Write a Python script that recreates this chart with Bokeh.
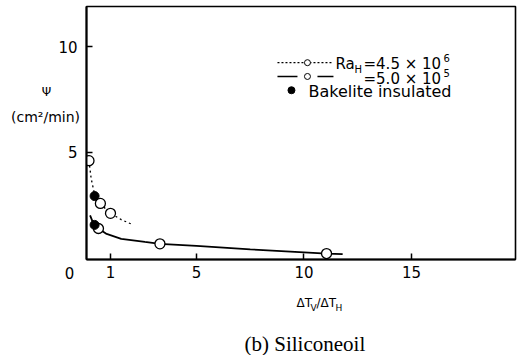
from bokeh.plotting import figure
from bokeh.models import Range1d, FixedTicker, Label
from bokeh.embed import file_html
from bokeh.resources import INLINE

# ---- data ----
ra45_line_x = [0.0, 0.1, 0.26, 0.53, 1.0, 1.5, 1.95]
ra45_line_y = [4.6, 3.75, 3.0, 2.55, 2.1, 1.8, 1.6]
ra45_pts_x = [0.0, 0.53, 1.0]
ra45_pts_y = [4.6, 2.57, 2.1]

ra5_line_x = [0.05, 0.2, 0.44, 0.82, 1.5, 2.6, 3.3, 5.0, 7.5, 10.0, 11.05, 11.8]
ra5_line_y = [2.0, 1.62, 1.38, 1.12, 0.89, 0.74, 0.65, 0.55, 0.39, 0.25, 0.19, 0.16]
ra5_pts_x = [0.44, 3.3, 11.05]
ra5_pts_y = [1.38, 0.65, 0.19]

bakelite_x = [0.26, 0.26]
bakelite_y = [2.92, 1.55]

x_ticks = [1, 5, 10, 15]
y_ticks = [5, 10]

SANS = "'DejaVu Sans', sans-serif"
SERIF = "'Liberation Serif', serif"

p = figure(width=517, height=355, output_backend="svg", toolbar_location=None,
           x_range=Range1d(-0.116, 19.84), y_range=Range1d(-0.093, 11.92),
           min_border_left=86, min_border_right=2, min_border_top=6, min_border_bottom=96)
p.grid.visible = False
p.background_fill_color = "white"
p.border_fill_color = "white"
p.outline_line_color = "black"
p.outline_line_width = 1.6

for ax in (p.xaxis[0], p.yaxis[0]):
    ax.axis_line_width = 2
    ax.axis_line_color = "black"
    ax.major_tick_in = 6
    ax.major_tick_out = 0
    ax.major_tick_line_width = 1.5
    ax.minor_tick_line_color = None
    ax.major_label_text_font = SANS
    ax.major_label_text_font_size = "15px"
    ax.major_label_text_color = "black"
p.xaxis.ticker = FixedTicker(ticks=x_ticks)
p.yaxis.ticker = FixedTicker(ticks=y_ticks)
p.xaxis.major_label_standoff = 6
p.yaxis.major_label_standoff = 9

# curves
p.line(ra45_line_x, ra45_line_y, line_color="black", line_width=1.3, line_dash="2 3")
p.line(ra5_line_x, ra5_line_y, line_color="black", line_width=1.8)
p.scatter(ra45_pts_x, ra45_pts_y, size=10, marker="circle", fill_color="white",
          line_color="black", line_width=1.3)
p.scatter(ra5_pts_x, ra5_pts_y, size=10, marker="circle", fill_color="white",
          line_color="black", line_width=1.3)
p.scatter(bakelite_x, bakelite_y, size=9, marker="circle", fill_color="black",
          line_color="black")

# ---- helpers: canvas pixel -> data ----
def dx(px):
    return (px - 88.5) / 21.5

def dy(py):
    return (261 - py) / 21.4

def lab(text, px, py, size, font=SANS, align="left", baseline="middle", place=None):
    lbl = Label(x=px, y=py, x_units="canvas", y_units="canvas", text=text,
                text_font=font, text_font_size=f"{size}px", text_align=align,
                text_baseline=baseline, text_color="#000000")
    if place is None:
        p.add_layout(lbl)
    else:
        p.add_layout(lbl, place)

# legend
R1, R2, R3 = 63, 77, 91
p.line([dx(277), dx(333)], [dy(R1), dy(R1)], line_color="black", line_width=1.2, line_dash="2 2")
p.scatter([dx(307)], [dy(R1)], size=6, fill_color="white", line_color="black")
p.line([dx(277), dx(297)], [dy(R2), dy(R2)], line_color="black", line_width=1.6)
p.line([dx(317), dx(333)], [dy(R2), dy(R2)], line_color="black", line_width=1.6)
p.scatter([dx(307)], [dy(R2)], size=6, fill_color="white", line_color="black")
p.scatter([dx(291)], [dy(R3)], size=7, fill_color="black", line_color="black")

lab("Ra", 335, R1, 15)
lab("H", 354, R1 + 6, 10)
lab("=4.5 × 10", 363, R1, 15)
lab("6", 443, R1 - 6, 10)
lab("=5.0 × 10", 363, R2 + 1, 15)
lab("5", 443, R2 - 5, 10)
lab("Bakelite insulated", 308, R3, 16)

# texts outside the frame go into side panels (not clipped to the frame);
# spread over the left and bottom panels so that they fit in the borders
lab("Ψ", 46, 91, 12, align="center", place="left")
lab("0", 69, 272, 15, align="center", place="left")
lab("V", 310, 307, 9, place="left")
lab("H", 335, 307, 9, place="left")
lab("(cm²/min)", 45, 116, 14, align="center", place="below")
lab("ΔT", 296, 302, 12, place="below")
lab("/ΔT", 316, 302, 12, place="below")
lab("(b)  Siliconeoil", 307, 343, 21, font=SERIF, align="center", place="below")

open("out.html", "w").write(file_html(p, INLINE))
